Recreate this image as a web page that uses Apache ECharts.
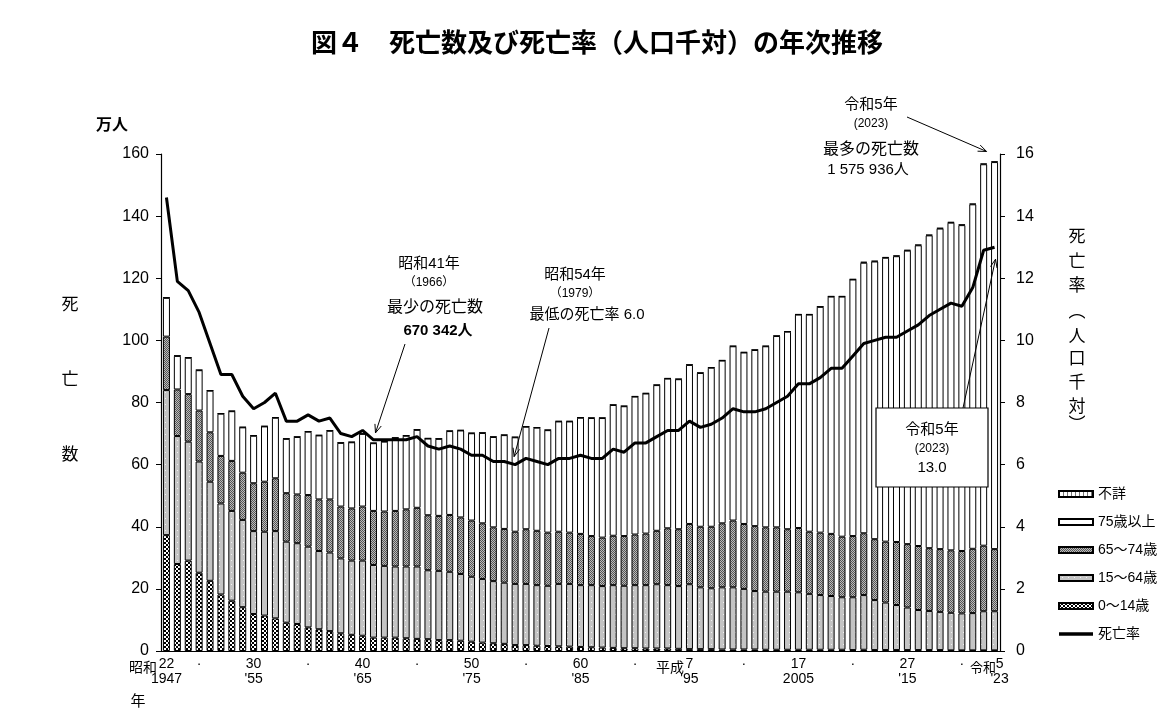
<!DOCTYPE html>
<html>
<head>
<meta charset="utf-8">
<script src="https://cdn.jsdelivr.net/npm/echarts@6/dist/echarts.min.js"></script>
<style>
html, body { margin: 0; padding: 0; background: #fff; }
#chart { width: 1173px; height: 717px; }
</style>
</head>
<body>
<div id="chart"></div>
<script>
// 年次 (1947 = 昭和22年 … 2023 = 令和5年)
var years = ['1947','1948','1949','1950','1951','1952','1953','1954','1955','1956',
	'1957','1958','1959','1960','1961','1962','1963','1964','1965','1966',
	'1967','1968','1969','1970','1971','1972','1973','1974','1975','1976',
	'1977','1978','1979','1980','1981','1982','1983','1984','1985','1986',
	'1987','1988','1989','1990','1991','1992','1993','1994','1995','1996',
	'1997','1998','1999','2000','2001','2002','2003','2004','2005','2006',
	'2007','2008','2009','2010','2011','2012','2013','2014','2015','2016',
	'2017','2018','2019','2020','2021','2022','2023'];

// 年齢階級別 死亡数 (万人)
var age0to14 = [37.3, 28.0, 29.1, 25.2, 22.6, 18.2, 16.2, 14.1, 11.9, 11.4,
	10.5, 9.1, 8.7, 7.6, 7.0, 6.4, 5.7, 5.2, 4.9, 4.3,
	4.3, 4.3, 4.1, 3.9, 3.8, 3.5, 3.5, 3.3, 3.0, 2.7,
	2.5, 2.3, 1.9, 1.9, 1.7, 1.6, 1.5, 1.4, 1.3, 1.2,
	1.1, 1.0, 0.9, 0.9, 0.8, 0.8, 0.8, 0.7, 0.6, 0.6,
	0.6, 0.5, 0.5, 0.5, 0.5, 0.4, 0.4, 0.4, 0.4, 0.4,
	0.4, 0.4, 0.4, 0.3, 0.4, 0.3, 0.3, 0.3, 0.3, 0.3,
	0.3, 0.3, 0.2, 0.2, 0.2, 0.2, 0.2];
var age15to64 = [46.7, 41.2, 38.3, 35.8, 31.9, 29.3, 28.9, 28.1, 26.7, 27.0,
	28.1, 26.1, 26.0, 26.0, 25.2, 25.3, 24.1, 23.9, 24.2, 23.4,
	23.1, 22.9, 23.1, 23.3, 22.2, 22.3, 22.0, 21.5, 20.9, 20.5,
	20.0, 19.7, 19.7, 19.7, 19.5, 19.4, 20.1, 20.2, 19.9, 20.0,
	19.8, 20.2, 20.1, 20.3, 20.4, 20.7, 20.4, 20.2, 20.9, 19.9,
	19.6, 20.0, 20.0, 19.5, 18.8, 18.7, 18.7, 18.7, 18.5, 18.0,
	17.6, 17.3, 16.9, 17.0, 17.6, 16.1, 15.3, 14.5, 13.7, 12.9,
	12.6, 12.3, 12.1, 11.9, 12.0, 12.6, 12.6];
var age65to74 = [17.2, 15.0, 15.3, 16.4, 15.9, 15.3, 16.1, 15.2, 15.4, 16.1,
	17.0, 15.6, 15.7, 16.6, 16.6, 17.1, 16.7, 16.8, 17.4, 17.4,
	17.5, 17.9, 18.4, 18.9, 17.7, 17.7, 18.3, 18.2, 18.1, 17.9,
	17.3, 17.3, 16.8, 17.6, 17.5, 17.1, 16.8, 16.5, 16.5, 15.8,
	15.6, 15.9, 16.0, 16.3, 16.6, 17.2, 18.3, 18.3, 19.4, 19.5,
	19.8, 20.6, 21.5, 20.9, 20.9, 20.7, 20.7, 20.1, 20.7, 20.0,
	20.1, 20.0, 19.5, 19.7, 19.9, 19.6, 19.6, 20.3, 20.4, 20.6,
	20.2, 20.2, 20.1, 20.1, 20.7, 21.1, 20.0];
var age75plus = [12.5, 10.8, 11.7, 13.0, 13.4, 13.6, 16.0, 14.6, 15.3, 17.8,
	19.5, 17.5, 18.5, 20.4, 20.6, 22.1, 20.5, 21.3, 23.4, 21.8,
	22.5, 23.5, 23.7, 25.1, 24.7, 24.8, 27.0, 28.0, 28.1, 29.1,
	29.1, 30.2, 30.4, 33.0, 33.2, 33.0, 35.5, 35.8, 37.4, 38.0,
	38.5, 42.1, 41.8, 44.4, 45.1, 46.9, 48.2, 48.3, 51.2, 49.5,
	51.2, 52.4, 56.1, 55.2, 56.7, 58.3, 61.6, 63.6, 68.7, 69.9,
	72.7, 76.4, 77.3, 82.6, 87.1, 89.4, 91.4, 92.0, 94.5, 96.8,
	100.7, 103.2, 105.5, 104.9, 110.9, 122.8, 124.6];
var ageUnknown = [0.1, 0.1, 0.1, 0.1, 0.1, 0.1, 0.1, 0.1, 0.1, 0.1,
	0.1, 0.1, 0.1, 0.1, 0.1, 0.1, 0.1, 0.1, 0.1, 0.1,
	0.1, 0.1, 0.1, 0.1, 0.1, 0.1, 0.1, 0.1, 0.1, 0.1,
	0.1, 0.1, 0.1, 0.1, 0.1, 0.1, 0.1, 0.1, 0.1, 0.1,
	0.1, 0.1, 0.1, 0.1, 0.1, 0.1, 0.1, 0.1, 0.1, 0.1,
	0.1, 0.1, 0.1, 0.1, 0.1, 0.1, 0.1, 0.1, 0.1, 0.1,
	0.1, 0.1, 0.1, 0.1, 0.3, 0.2, 0.2, 0.2, 0.2, 0.2,
	0.2, 0.2, 0.2, 0.2, 0.2, 0.2, 0.2];

// 死亡率 (人口千対)
var deathRate = [14.6, 11.9, 11.6, 10.9, 9.9, 8.9, 8.9, 8.2, 7.8, 8.0,
	8.3, 7.4, 7.4, 7.6, 7.4, 7.5, 7.0, 6.9, 7.1, 6.8,
	6.8, 6.8, 6.8, 6.9, 6.6, 6.5, 6.6, 6.5, 6.3, 6.3,
	6.1, 6.1, 6.0, 6.2, 6.1, 6.0, 6.2, 6.2, 6.3, 6.2,
	6.2, 6.5, 6.4, 6.7, 6.7, 6.9, 7.1, 7.1, 7.4, 7.2,
	7.3, 7.5, 7.8, 7.7, 7.7, 7.8, 8.0, 8.2, 8.6, 8.6,
	8.8, 9.1, 9.1, 9.5, 9.9, 10.0, 10.1, 10.1, 10.3, 10.5,
	10.8, 11.0, 11.2, 11.1, 11.7, 12.9, 13.0];

// 横軸の目盛ラベル
var tickYears = ['1947','1950','1955','1960','1965','1970','1975','1980','1985',
	'1990','1995','2000','2005','2010','2015','2020','2023'];
var tickLabels = ['22\n1947','·','30\n\'55','·','40\n\'65','·','50\n\'75','·','60\n\'85',
	'·','7\n\'95','·','17\n2005','·','27\n\'15','·','{e|5}\n{e|\'23}'];

var FONT = "'Liberation Sans', 'Noto Sans CJK JP', sans-serif";

function makePattern(w, h, draw) {
	var c = document.createElement('canvas');
	c.width = w;
	c.height = h;
	draw(c.getContext('2d'));
	return { image: c, repeat: 'repeat' };
}

var patChecker = makePattern(4, 4, function (g) {
	g.fillStyle = '#000';
	g.fillRect(0, 0, 4, 4);
	g.fillStyle = '#fff';
	g.fillRect(0, 0, 2, 2);
	g.fillRect(2, 2, 2, 2);
});
var patGray = makePattern(6, 6, function (g) {
	g.fillStyle = '#c4c4c4';
	g.fillRect(0, 0, 6, 6);
	g.fillStyle = '#f2f2f2';
	g.fillRect(3, 2, 1, 1);
});
var patDark = makePattern(2, 2, function (g) {
	g.fillStyle = '#bcbcbc';
	g.fillRect(0, 0, 2, 2);
	g.fillStyle = '#555';
	g.fillRect(0, 0, 1, 1);
	g.fillRect(1, 1, 1, 1);
});
var patStripe = makePattern(4, 2, function (g) {
	g.fillStyle = '#fff';
	g.fillRect(0, 0, 4, 2);
	g.fillStyle = '#777';
	g.fillRect(0, 0, 1, 2);
});

function barSeries(name, data, color) {
	return {
		name: name,
		type: 'bar',
		stack: 'deaths',
		barWidth: 7,
		data: data,
		itemStyle: { color: color, borderColor: '#000', borderWidth: 1 },
		emphasis: { disabled: true }
	};
}

var option = {
	animation: false,
	textStyle: { fontFamily: FONT, color: '#000' },
	grid: { left: 161, right: 173, top: 154, bottom: 66, outerBoundsMode: 'none' },
	legend: {
		orient: 'vertical',
		left: 1053,
		top: 482,
		itemWidth: 34,
		itemHeight: 6,
		itemGap: 14,
		textStyle: { fontFamily: FONT, fontSize: 14, color: '#000' },
		data: [
			{ name: '不詳', icon: 'rect' },
			{ name: '75歳以上', icon: 'rect' },
			{ name: '65～74歳', icon: 'rect' },
			{ name: '15～64歳', icon: 'rect' },
			{ name: '0～14歳', icon: 'rect' },
			{ name: '死亡率', icon: 'path://M0,0 L34,0 L34,3.4 L0,3.4 Z' }
		]
	},
	xAxis: {
		type: 'category',
		data: years,
		axisLine: { lineStyle: { color: '#000', width: 1.2 } },
		axisTick: { length: 4, lineStyle: { color: '#000' } },
		axisLabel: {
			interval: 0,
			margin: 6,
			fontFamily: FONT,
			fontSize: 14,
			lineHeight: 15,
			color: '#000',
			rich: {
				e: { fontFamily: FONT, fontSize: 14, lineHeight: 15, color: '#000', padding: [0, 0, 0, 10] }
			},
			formatter: function (v) {
				var i = tickYears.indexOf(v);
				return i < 0 ? '' : tickLabels[i];
			}
		}
	},
	yAxis: [{
		type: 'value',
		min: 0,
		max: 160,
		interval: 20,
		splitLine: { show: false },
		axisLine: { show: true, lineStyle: { color: '#000', width: 1.2 } },
		axisTick: { show: true, length: 5, lineStyle: { color: '#000' } },
		axisLabel: { fontFamily: FONT, fontSize: 16, color: '#000', margin: 12 }
	}, {
		type: 'value',
		min: 0,
		max: 16,
		interval: 2,
		splitLine: { show: false },
		axisLine: { show: true, lineStyle: { color: '#000', width: 1.2 } },
		axisTick: { show: true, length: 5, lineStyle: { color: '#000' } },
		axisLabel: { fontFamily: FONT, fontSize: 16, color: '#000', margin: 16 }
	}],
	series: [
		barSeries('0～14歳', age0to14, patChecker),
		barSeries('15～64歳', age15to64, patGray),
		barSeries('65～74歳', age65to74, patDark),
		barSeries('75歳以上', age75plus, '#fff'),
		barSeries('不詳', ageUnknown, patStripe),
		{
			name: '死亡率',
			type: 'line',
			yAxisIndex: 1,
			data: deathRate,
			symbol: 'none',
			z: 5,
			lineStyle: { color: '#000', width: 3 },
			itemStyle: { color: '#000' },
			emphasis: { disabled: true }
		}
	]
};

var chart = echarts.init(document.getElementById('chart'));
chart.setOption(option);

function px(idx, val, axis) {
	return chart.convertToPixel({ xAxisIndex: 0, yAxisIndex: axis }, [idx, val]);
}

function txt(x, y, s, size, bold, align) {
	return {
		type: 'text', x: x, y: y, z: 20,
		style: {
			text: s, fill: '#000', fontFamily: FONT, fontSize: size,
			fontWeight: bold ? 'bold' : 'normal',
			align: align || 'center', verticalAlign: 'middle'
		}
	};
}

function arrow(x1, y1, x2, y2) {
	var a = Math.atan2(y2 - y1, x2 - x1), L = 9, w = 0.38;
	return [{
		type: 'line', z: 20,
		shape: { x1: x1, y1: y1, x2: x2, y2: y2 },
		style: { stroke: '#000', lineWidth: 1 }
	}, {
		type: 'polyline', z: 20,
		shape: { points: [
			[x2 - L * Math.cos(a - w), y2 - L * Math.sin(a - w)],
			[x2, y2],
			[x2 - L * Math.cos(a + w), y2 - L * Math.sin(a + w)]
		] },
		style: { stroke: '#000', lineWidth: 1, fill: null }
	}];
}

var total1966 = age0to14[19] + age15to64[19] + age65to74[19] + age75plus[19] + ageUnknown[19];
var total2023 = age0to14[76] + age15to64[76] + age65to74[76] + age75plus[76] + ageUnknown[76];
var tip1 = px(19, total1966, 0);
var tip2 = px(32, deathRate[32], 1);
var tip3 = px(76, total2023, 0);
var tip4 = px(76, deathRate[76], 1);

var g = [
	txt(597, 45, '図４　死亡数及び死亡率（人口千対）の年次推移', 26, true),
	txt(112, 126, '万人', 16, true),
	txt(70, 305, '死', 17),
	txt(70, 380, '亡', 17),
	txt(70, 455, '数', 17),
	txt(143, 668, '昭和', 14),
	txt(670, 668, '平成', 14),
	txt(983, 668, '令和', 13),
	txt(138, 702, '年', 15),

	txt(429, 264, '昭和41年', 15),
	txt(429, 283, '（1966）', 12),
	txt(435, 308, '最少の死亡数', 16),
	txt(438, 331, '670 342人', 15, true),

	txt(575, 275, '昭和54年', 15),
	txt(575, 294, '（1979）', 12),
	txt(587, 315, '最低の死亡率 6.0', 15),

	txt(871, 105, '令和5年', 15),
	txt(871, 124, '(2023)', 12),
	txt(871, 150, '最多の死亡数', 16),
	txt(868, 170, '1 575 936人', 15),

	{
		type: 'rect', z: 19,
		shape: { x: 876, y: 408, width: 112, height: 79 },
		style: { fill: '#fff', stroke: '#000', lineWidth: 1.2 }
	},
	txt(932, 430, '令和5年', 15),
	txt(932, 449, '(2023)', 12),
	txt(932, 468, '13.0', 15)
];

var vChars = ['死', '亡', '率', '︵', '人', '口', '千', '対', '︶'];
var vY = [237, 262, 286, 312, 337, 359, 383, 407, 425];
for (var i = 0; i < vChars.length; i++) {
	g.push(txt(1077, vY[i], vChars[i], 17));
}

g = g.concat(
	arrow(405, 344, tip1[0] + 2, tip1[1] - 10),
	arrow(549, 328, tip2[0] - 1, tip2[1] - 8),
	arrow(907, 117, tip3[0] - 8, tip3[1] - 10),
	arrow(963, 408, tip4[0] + 1, tip4[1] + 12)
);

chart.setOption({ graphic: g });
</script>
</body>
</html>
